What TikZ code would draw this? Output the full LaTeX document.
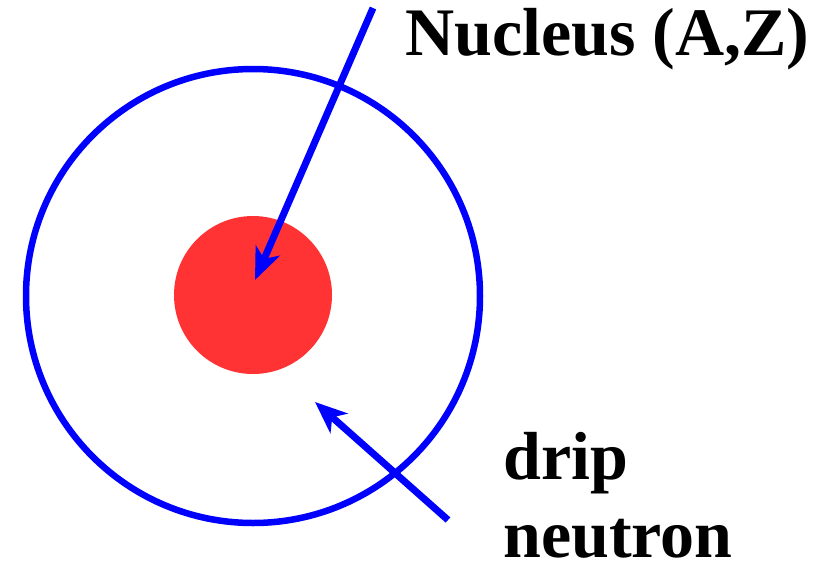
\documentclass[tikz,border=0pt]{standalone}
\usepackage{fontspec}
\setmainfont{Liberation Serif}
\usetikzlibrary{arrows.meta}
\definecolor{ringblue}{RGB}{0,0,255}
\definecolor{corered}{RGB}{255,51,51}
\tikzset{
  ring/.style={draw=ringblue,line width=6.5pt},
  pointer/.style={draw=ringblue,line width=7pt,-{Stealth[length=32pt,width=26pt,inset=9pt]}},
  bigtext/.style={font=\bfseries\fontsize{68}{80}\selectfont,inner sep=0pt,anchor=base west}
}
\begin{document}
\begin{tikzpicture}[x=1pt,y=-1pt]
\useasboundingbox (0,0) rectangle (820,563);
\draw[ring] (253,296) circle (227);
\fill[corered] (253,295) circle (79);
\node[bigtext] (nucleus) at (405,55) {Nucleus (A,Z)};
\node[bigtext] (drip) at (503,479) {drip};
\node[bigtext,text depth=0pt] (neutron) at (503,557) {neutron};
\coordinate (core) at (255,280);
\coordinate (nucstart) at (373,8);
\coordinate (halo) at (315,402);
\coordinate (dripstart) at (448,520);
\draw[pointer] (nucstart) -- (core);
\draw[pointer] (dripstart) -- (halo);
\end{tikzpicture}
\end{document}
